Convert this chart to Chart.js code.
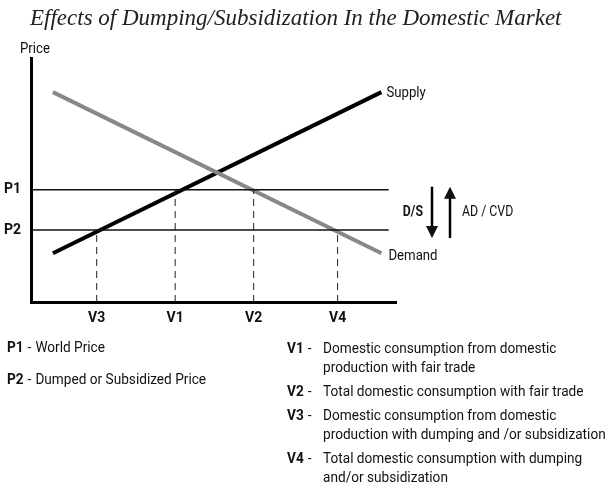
<!DOCTYPE html>
<html>
<head>
<meta charset="utf-8">
<script src="https://cdn.jsdelivr.net/npm/chart.js@4.4.1/dist/chart.umd.min.js"></script>
<style>
  html, body { margin: 0; padding: 0; background: #fff; }
</style>
</head>
<body>
<canvas id="chart" width="614" height="489"></canvas>
<script>
/* Supply / demand diagram: effects of dumping on the domestic market */
const TITLE = 'Effects of Dumping/Subsidization In the Domestic Market';

const SUPPLY = [{ x: 6, y: 20 }, { x: 96, y: 86 }];
const DEMAND = [{ x: 6, y: 86 }, { x: 96, y: 20 }];

const PRICE_LABELS = ['P2', 'P1'];
const PRICE_VALUES = [29.5, 46];
const PRICE_LINE_END = 98;

const VOLUME_LABELS = ['V3', 'V1', 'V2', 'V4'];
const VOLUME_VALUES = [18, 39.5, 61, 84];
const VOLUME_TOPS = [29.5, 46, 46, 29.5];   // price each dashed drop starts from

const LEFT_NOTES = [
  ['P1', 'World Price'],
  ['P2', 'Dumped or Subsidized Price']
];
const RIGHT_NOTES = [
  ['V1', ['Domestic consumption from domestic', 'production with fair trade']],
  ['V2', ['Total domestic consumption with fair trade']],
  ['V3', ['Domestic consumption from domestic', 'production with dumping and /or subsidization']],
  ['V4', ['Total domestic consumption with dumping', 'and/or subsidization']]
];

const SANS = "'Liberation Sans Narrow', 'Arial Narrow', Roboto, sans-serif";
const SERIF = "'Liberation Serif', 'DejaVu Serif', serif";
const INK = '#111';
const NARROW = 0.88;   // horizontal squeeze to mimic the condensed face

const lineSet = (data, color, width, dash) => ({
  data, borderColor: color, borderWidth: width, borderDash: dash || [],
  pointRadius: 0, showLine: true, fill: false, borderCapStyle: 'butt'
});

const datasets = [
  ...PRICE_VALUES.map(p => lineSet([{ x: 0, y: p }, { x: PRICE_LINE_END, y: p }], INK, 1.5)),
  ...VOLUME_VALUES.map((v, i) => lineSet([{ x: v, y: 0 }, { x: v, y: VOLUME_TOPS[i] }], '#222', 1, [7, 5])),
  lineSet(DEMAND, '#888', 4),
  lineSet(SUPPLY, '#000', 4)
];

// condensed text: draw squeezed horizontally, return drawn width
function narrowText(ctx, text, x, y) {
  ctx.save();
  ctx.translate(x, y);
  ctx.scale(NARROW, 1);
  ctx.fillText(text, 0, 0);
  ctx.restore();
  return ctx.measureText(text).width * NARROW;
}

/* Text labels, arrows and notes around the plot */
const annotations = {
  id: 'annotations',
  afterDraw(chart) {
    const { ctx, scales: { x, y } } = chart;
    ctx.save();
    ctx.textBaseline = 'alphabetic';

    ctx.font = 'italic 23px ' + SERIF;
    ctx.fillStyle = '#222';
    ctx.fillText(TITLE, 30, 25);

    ctx.fillStyle = INK;
    ctx.font = '15px ' + SANS;
    narrowText(ctx, 'Price', 20, 53);

    ctx.textBaseline = 'middle';
    const sEnd = SUPPLY[SUPPLY.length - 1];
    narrowText(ctx, 'Supply', x.getPixelForValue(sEnd.x) + 5, y.getPixelForValue(sEnd.y) + 1);
    const dEnd = DEMAND[DEMAND.length - 1];
    narrowText(ctx, 'Demand', x.getPixelForValue(dEnd.x) + 7, y.getPixelForValue(dEnd.y) + 3);

    // D/S and AD / CVD arrows between the two price lines
    const yTop = y.getPixelForValue(PRICE_VALUES[1]) - 3;
    const yBot = y.getPixelForValue(PRICE_VALUES[0]) + 8;
    const mid = (yTop + yBot) / 2;
    const xDown = chart.chartArea.right + 36;
    const xUp = xDown + 18;
    ctx.strokeStyle = '#000';
    ctx.lineWidth = 2.5;
    ctx.beginPath();
    ctx.moveTo(xDown, yTop); ctx.lineTo(xDown, yBot - 10);
    ctx.moveTo(xUp, yBot); ctx.lineTo(xUp, yTop + 10);
    ctx.stroke();
    ctx.beginPath();
    ctx.moveTo(xDown - 6, yBot - 12); ctx.lineTo(xDown + 6, yBot - 12); ctx.lineTo(xDown, yBot); ctx.closePath();
    ctx.moveTo(xUp - 6, yTop + 12); ctx.lineTo(xUp + 6, yTop + 12); ctx.lineTo(xUp, yTop); ctx.closePath();
    ctx.fill();

    ctx.font = 'bold 14px ' + SANS;
    const dsW = ctx.measureText('D/S').width * NARROW;
    narrowText(ctx, 'D/S', xDown - 9 - dsW, mid);
    ctx.font = '14px ' + SANS;
    narrowText(ctx, 'AD / CVD', xUp + 12, mid);

    // notes under the chart
    const keyed = (key, text, px, py, textX) => {
      ctx.font = 'bold 15.5px ' + SANS;
      const kw = narrowText(ctx, key, px, py);
      ctx.font = '15.5px ' + SANS;
      const dw = narrowText(ctx, '-', px + kw + 4, py);
      narrowText(ctx, text, textX != null ? textX : px + kw + dw + 8, py);
    };
    LEFT_NOTES.forEach(([k, t], i) => keyed(k, t, 7, 348 + i * 32));

    let ny = 349;
    RIGHT_NOTES.forEach(([k, lines]) => {
      keyed(k, lines[0], 287, ny, 323);
      for (let j = 1; j < lines.length; j++) {
        ny += 19;
        narrowText(ctx, lines[j], 323, ny);
      }
      ny += 24;
    });
    ctx.restore();
  }
};

new Chart(document.getElementById('chart'), {
  type: 'scatter',
  data: { datasets },
  options: {
    responsive: false,
    animation: false,
    events: [],
    layout: { padding: { top: 58, right: 218, bottom: 157, left: 0 } },
    plugins: { legend: { display: false }, title: { display: false }, tooltip: { enabled: false } },
    scales: {
      x: {
        type: 'linear', min: 0, max: 100,
        grid: { display: false, drawTicks: false },
        border: { display: true, color: '#000', width: 3 },
        afterBuildTicks: s => { s.ticks = VOLUME_VALUES.map(v => ({ value: v })); },
        afterFit: s => { s.height = 30; },
        ticks: {
          padding: 8, color: INK, maxRotation: 0, autoSkip: false,
          font: { family: SANS, size: 14, weight: 'bold' },
          callback: (v, i) => VOLUME_LABELS[i]
        }
      },
      y: {
        type: 'linear', min: 0, max: 100,
        grid: { display: false, drawTicks: false },
        border: { display: true, color: '#000', width: 3 },
        afterBuildTicks: s => { s.ticks = PRICE_VALUES.map(v => ({ value: v })); },
        afterFit: s => { s.width = 31; },
        ticks: {
          padding: 10, color: INK, autoSkip: false,
          font: { family: SANS, size: 14, weight: 'bold' },
          callback: (v, i) => PRICE_LABELS[i]
        }
      }
    }
  },
  plugins: [annotations]
});
</script>
</body>
</html>
